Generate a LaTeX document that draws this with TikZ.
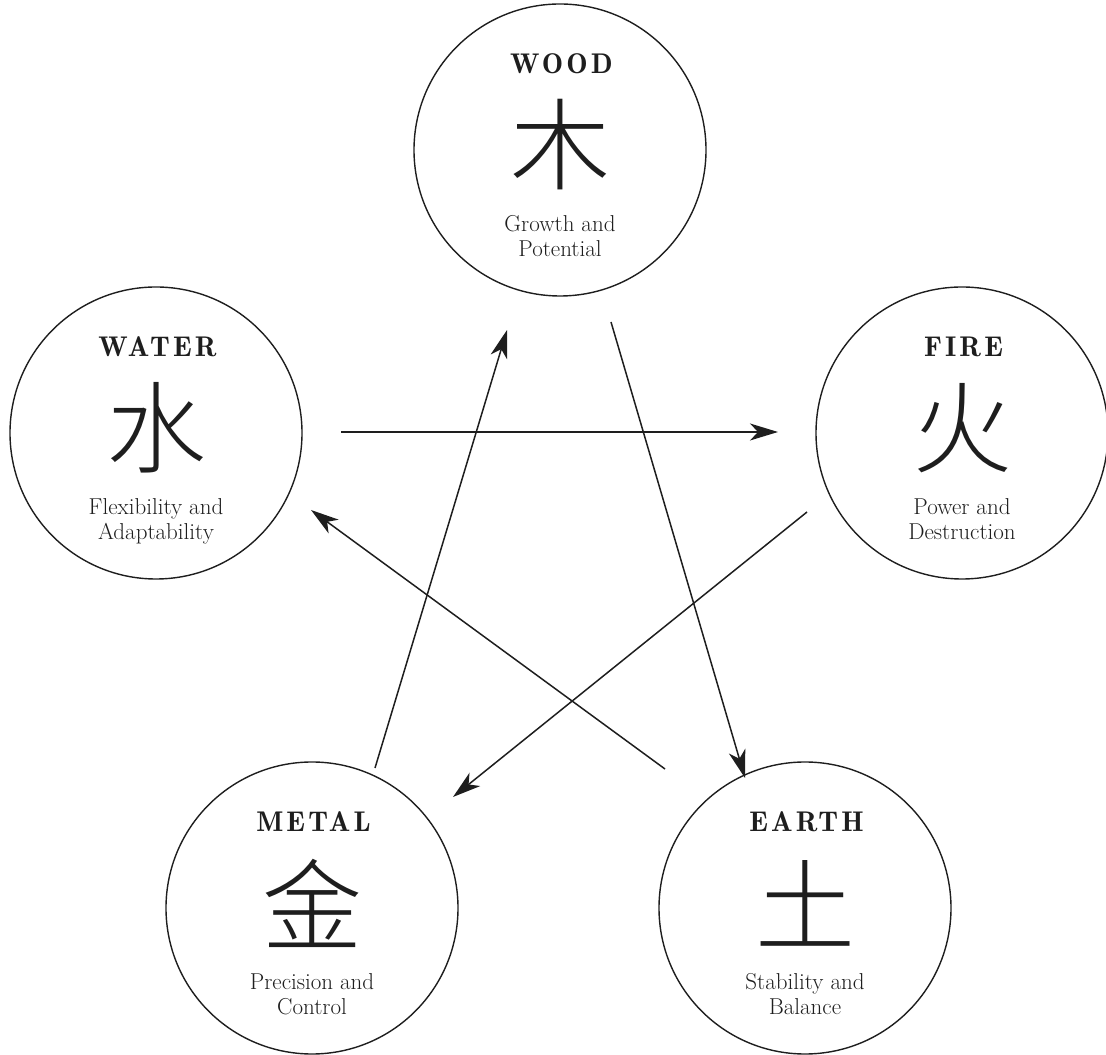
\documentclass[tikz,border=0pt]{standalone}
\usepackage{fontspec}
\newfontfamily\cjk{Noto Sans CJK SC}[UprightFont=* Light]
\newfontfamily\titlefont{lmromandemi10-regular.otf}[LetterSpace=11]
\usetikzlibrary{arrows.meta}
\definecolor{ink}{HTML}{1E1E1E}
\tikzset{
  elem/.style={draw=ink, line width=1.4pt, circle, minimum size=292pt, inner sep=0pt},
  ttl/.style={anchor=base, inner sep=0pt, text=ink, font=\titlefont\fontsize{28.5}{28.5}\selectfont},
  glyph/.style={inner sep=0pt, text=ink, font=\cjk\fontsize{100}{100}\selectfont},
  desc/.style={anchor=base, inner sep=0pt, text=ink, font=\fontsize{23}{25}\selectfont},
  flow/.style={draw=ink, line width=1.5pt, -{Stealth[length=28pt, width=17pt, inset=8pt]}}
}
\begin{document}
\begin{tikzpicture}[x=1pt, y=1pt]
\useasboundingbox (0,0) rectangle (1106,1055);
% circles
\node[elem] (wood)  at (560,905) {};
\node[elem] (water) at (156,622) {};
\node[elem] (fire)  at (962,622) {};
\node[elem] (metal) at (312,147) {};
\node[elem] (earth) at (805,147) {};
% texts
\foreach \n/\t/\g/\a/\b in {wood/WOOD/木/Growth and/Potential,
                            water/WATER/水/Flexibility and/Adaptability,
                            fire/FIRE/火/Power and/Destruction,
                            metal/METAL/金/Precision and/Control,
                            earth/EARTH/土/Stability and/Balance}{
  \node[ttl]   (\n-t)  at ([xshift=1.5pt,yshift=76pt]\n.center) {\t};
  \node[glyph] (\n-g)  at ([yshift=5pt]\n.center) {\g};
  \node[desc]  (\n-d1) at ([yshift=-82pt]\n.center) {\a};
  \node[desc]  (\n-d2) at ([yshift=-107pt]\n.center) {\b};
}
% arrow endpoints
\coordinate (wf1) at (341,623); \coordinate (wf2) at (778,623);
\coordinate (we1) at (611,733); \coordinate (we2) at (745,277);
\coordinate (fm1) at (807,543); \coordinate (fm2) at (453,258);
\coordinate (ew1) at (665,286); \coordinate (ew2) at (311,545);
\coordinate (mw1) at (375,287); \coordinate (mw2) at (507,725);
\draw[flow] (wf1) -- (wf2);
\draw[flow] (we1) -- (we2);
\draw[flow] (fm1) -- (fm2);
\draw[flow] (ew1) -- (ew2);
\draw[flow] (mw1) -- (mw2);
\end{tikzpicture}
\end{document}
